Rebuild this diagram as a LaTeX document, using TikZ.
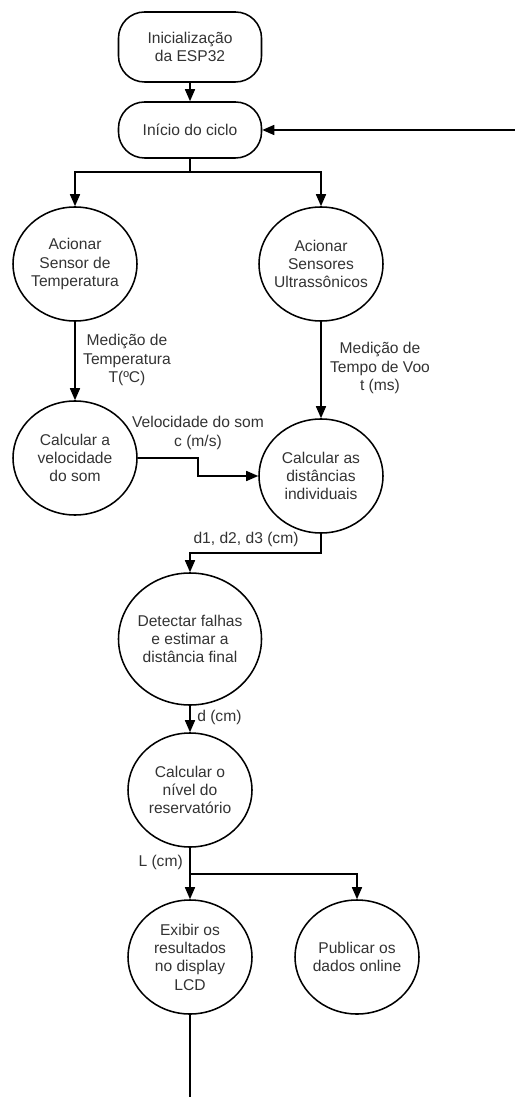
\documentclass[tikz,border=0pt]{standalone}
\usepackage{fontspec}
\setmainfont{Liberation Sans}
\usepackage{xcolor}
\usepackage{tikz}
\usetikzlibrary{arrows.meta,shapes.geometric}
\definecolor{txtgray}{HTML}{333333}
\tikzset{
  term/.style={draw,line width=1.1pt,rounded corners=6.5mm,minimum width=35.75mm,inner sep=0pt,align=center,text=txtgray},
  proc/.style={draw,ellipse,line width=1.1pt,minimum width=31mm,minimum height=28.5mm,inner xsep=-2mm,inner ysep=0pt,align=center,text=txtgray},
  ar/.style={line width=1.1pt,-{Triangle[length=3mm,width=2.5mm]}},
  ln/.style={line width=1.1pt},
  lbl/.style={align=center,inner sep=0pt,text=txtgray}
}

\begin{document}
\begin{tikzpicture}[x=0.25mm,y=-0.25mm,font=\fontsize{11.1pt}{13pt}\selectfont]
\useasboundingbox (0,0) rectangle (515,1097);
\node[term,minimum height=17.5mm] (ini) at (190,47) {Inicialização\\da ESP32};
\node[term,minimum height=14mm] (cic) at (190,130) {Início do ciclo};
\node[proc] (tmp) at (75,264) {Acionar\\Sensor de\\Temperatura};
\node[proc] (ult) at (321,264) {Acionar\\Sensores\\Ultrassônicos};
\node[proc] (vel) at (75,458) {Calcular a\\velocidade\\do som};
\node[proc] (dist) at (321,476) {Calcular as\\distâncias\\individuais};
\node[proc,minimum width=35.75mm,minimum height=33mm] (det) at (190,639) {Detectar falhas\\e estimar a\\distância final};
\node[proc] (niv) at (190,790) {Calcular o\\nível do\\reservatório};
\node[proc] (lcd) at (190,957) {Exibir os\\resultados\\no display\\LCD};
\node[proc] (pub) at (357,957) {Publicar os\\dados online};

\coordinate (ret) at (515,130);
\coordinate (fork1) at (190,172);
\coordinate (vbend) at (198,458);
\coordinate (dbend) at (321,553);
\coordinate (fork2) at (190,874);
\coordinate (fim) at (190,1097);

\draw[ar] (ini) -- (cic);
\draw[ar] (ret) -- (cic.east);
\draw[ln] (cic) -- (fork1);
\draw[ar] (fork1) -| (tmp.north);
\draw[ar] (fork1) -| (ult.north);
\draw[ar] (tmp) -- (vel); \node[lbl] (ltmp) at (127,360) {Medição de\\Temperatura\\T(ºC)};
\draw[ar] (ult) -- (dist); \node[lbl] (lult) at (380,368) {Medição de\\Tempo de Voo\\t (ms)};
\draw[ar] (vel.east) -- (vbend) |- (dist.west); \node[lbl] (lvel) at (198,433) {Velocidade do som\\c (m/s)};
\draw[ar] (dist.south) -- (dbend) -| (det.north); \node[lbl] (ldist) at (246,539) {d1, d2, d3 (cm)};
\draw[ar] (det) -- (niv); \node[lbl,anchor=west] (ldet) at (197,717) {d (cm)};
\draw[ln] (niv) -- (fork2); \node[lbl,anchor=east] (lniv) at (183,862) {L (cm)};
\draw[ar] (fork2) -- (lcd.north);
\draw[ar] (fork2) -| (pub.north);
\draw[ln] (lcd) -- (fim);
\end{tikzpicture}
\end{document}
